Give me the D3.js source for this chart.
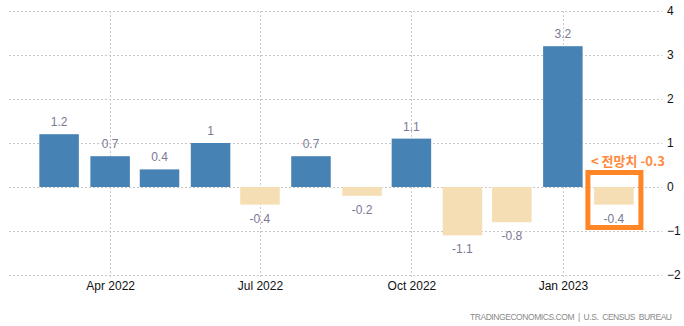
<!DOCTYPE html>
<html><head><meta charset="utf-8">
<script src="https://d3js.org/d3.v7.min.js"></script>
<style>body{margin:0;background:#fff}svg{display:block}</style>
</head><body>
<script>
const months = ["2022-03","2022-04","2022-05","2022-06","2022-07","2022-08","2022-09","2022-10","2022-11","2022-12","2023-01","2023-02"];
const values = [1.2,0.7,0.4,1,-0.4,0.7,-0.2,1.1,-1.1,-0.8,3.2,-0.4];
const labels = ["1.2","0.7","0.4","1","-0.4","0.7","-0.2","1.1","-1.1","-0.8","3.2","-0.4"];
const xTicks = ["2022-04","2022-07","2022-10","2023-01"];
const yTicks = [-2,-1,0,1,2,3,4];
const forecastText = "< 전망치 -0.3";
const sourceText = "TRADINGECONOMICS.COM  |  U.S.  CENSUS  BUREAU";

const W=684,H=326;
const parse=d3.timeParse("%Y-%m");
const svg=d3.select("body").append("svg").attr("width",W).attr("height",H);
const x=d3.scaleTime().domain([parse("2022-02"),parse("2023-03")]).range([13,660]);
const y=d3.scaleLinear().domain([-2,4]).range([275,11]);
const bw=39.5;

// horizontal grid
svg.append("g").selectAll("line").data(yTicks).join("line")
 .attr("x1",9).attr("x2",662).attr("y1",d=>y(d)+0.5).attr("y2",d=>y(d)+0.5)
 .attr("stroke","#c8c8c8").attr("stroke-dasharray","2,2");
// vertical grid
svg.append("g").selectAll("line").data(xTicks).join("line")
 .attr("x1",d=>Math.round(x(parse(d)))+0.5).attr("x2",d=>Math.round(x(parse(d)))+0.5)
 .attr("y1",11).attr("y2",279)
 .attr("stroke","#c8c8c8").attr("stroke-dasharray","2,2");

// y axis labels
const yAxis=d3.axisRight(y).tickValues(yTicks).tickSize(0).tickPadding(0).tickFormat(d3.format("d"));
const ya=svg.append("g").attr("transform","translate(667,0)").call(yAxis);
ya.select(".domain").remove();
ya.selectAll("text").attr("font-family","Liberation Sans, Arial, sans-serif").attr("font-size",12).attr("fill","#111");

// x axis labels
const xAxis=d3.axisBottom(x).tickValues(xTicks.map(parse)).tickSize(0).tickPadding(0).tickFormat(d3.timeFormat("%b %Y"));
const xa=svg.append("g").attr("transform","translate(0,281)").call(xAxis);
xa.select(".domain").remove();
xa.selectAll("text").attr("font-family","Liberation Sans, Arial, sans-serif").attr("font-size",12).attr("fill","#111");

// bars
svg.append("g").selectAll("rect").data(values).join("rect")
 .attr("x",(d,i)=>x(parse(months[i]))-bw/2).attr("width",bw)
 .attr("y",d=>y(Math.max(0,d))).attr("height",d=>Math.abs(y(d)-y(0)))
 .attr("fill",d=>d>=0?"#4682b4":"#f5deb3");

// value labels
svg.append("g").selectAll("text").data(values).join("text")
 .attr("x",(d,i)=>x(parse(months[i])))
 .attr("y",d=>d>=0?y(d)-8:y(d)+18)
 .attr("text-anchor","middle").attr("font-family","Liberation Sans, Arial, sans-serif").attr("font-size",12)
 .attr("fill","#7a7892").text((d,i)=>labels[i]);

// forecast annotation
const last=months.length-1;
const cx=x(parse(months[last]));
svg.append("rect").attr("x",cx-26).attr("y",172.5).attr("width",53).attr("height",55)
 .attr("fill","none").attr("stroke","#ff8526").attr("stroke-width",5);
svg.append("text").attr("x",591).attr("y",166).attr("font-family","Noto Sans CJK KR, sans-serif")
 .attr("font-size",13).attr("font-weight","bold").attr("fill","#ff8a3d").text(forecastText);

// source
svg.append("text").attr("x",470).attr("y",320)
 .attr("font-family","Liberation Sans, Arial, sans-serif").attr("font-size",8.5)
 .attr("textLength",202).attr("lengthAdjust","spacing")
 .attr("fill","#8a8a8a").style("white-space","pre").text(sourceText);
</script>
</body></html>
